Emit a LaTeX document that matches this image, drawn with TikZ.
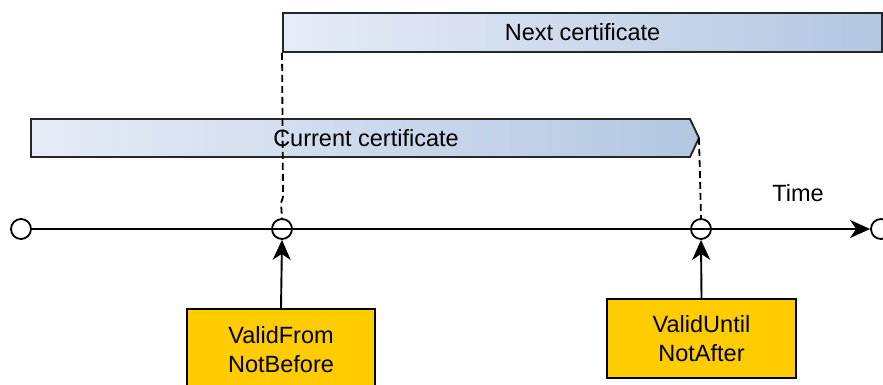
\documentclass[tikz,border=0pt]{standalone}
\usepackage{fontspec}
\setmainfont{Liberation Sans}
\usetikzlibrary{arrows.meta}
\definecolor{certL}{HTML}{E6ECF7}
\definecolor{certR}{HTML}{B3C7E2}
\definecolor{gold}{HTML}{FFCC00}
\tikzset{
  lbl/.style={font=\fontsize{23.5}{29}\selectfont, inner sep=0pt},
  certshape/.style={draw=black!85, line width=1.9pt, left color=certL, right color=certR},
  tick/.style={circle, draw, line width=1.8pt, minimum size=20pt, inner sep=0pt},
  datebox/.style={rectangle, draw, line width=1.9pt, fill=gold, align=center,
    font=\fontsize{23.5}{29}\selectfont, inner sep=0pt},
  dashline/.style={line width=1.8pt, dash pattern=on 7pt off 4pt},
  arr/.style={line width=1.9pt, -{Stealth[length=20pt,width=18pt,inset=6pt]}}
}
\begin{document}
\begin{tikzpicture}[x=1pt,y=-1pt]
\useasboundingbox (0,0) rectangle (883,385);
\clip (0,0) rectangle (883,385);
% certificates
\node[certshape, rectangle, minimum width=599pt, minimum height=39pt, inner sep=0pt] (next) at (582.5,32.5) {};
\node[lbl] (nextlbl) at (next.center) {Next certificate};
\path[certshape] (31,119) -- (690,119) -- (699,138) -- (690,157) -- (31,157) -- cycle;
\coordinate (curtip) at (699,138);
\node[lbl] (cur) at (366,138) {Current certificate};
% time axis
\node[tick] (c0) at (21,229) {};
\node[tick] (c1) at (282,229) {};
\node[tick] (c2) at (701,229) {};
\node[tick] (c3) at (881,229) {};
\draw[arr] (c0.east) -- (c3.west);
\node[lbl] (time) at (798,193) {Time};
% dashed guides
\draw[dashline] (next.south west) -- (283,197) -- (281,203) -- (c1.north);
\draw[dashline] (curtip) -- (c2.north);
% date boxes
\node[datebox, minimum width=188pt, minimum height=82pt] (vf) at (281,350) {ValidFrom\\NotBefore};
\node[datebox, minimum width=189pt, minimum height=79pt] (vu) at (701.5,338.5) {ValidUntil\\NotAfter};
\draw[arr] (vf.north) -- (c1.south);
\draw[arr] (vu.north) -- (c2.south);
\end{tikzpicture}
\end{document}
